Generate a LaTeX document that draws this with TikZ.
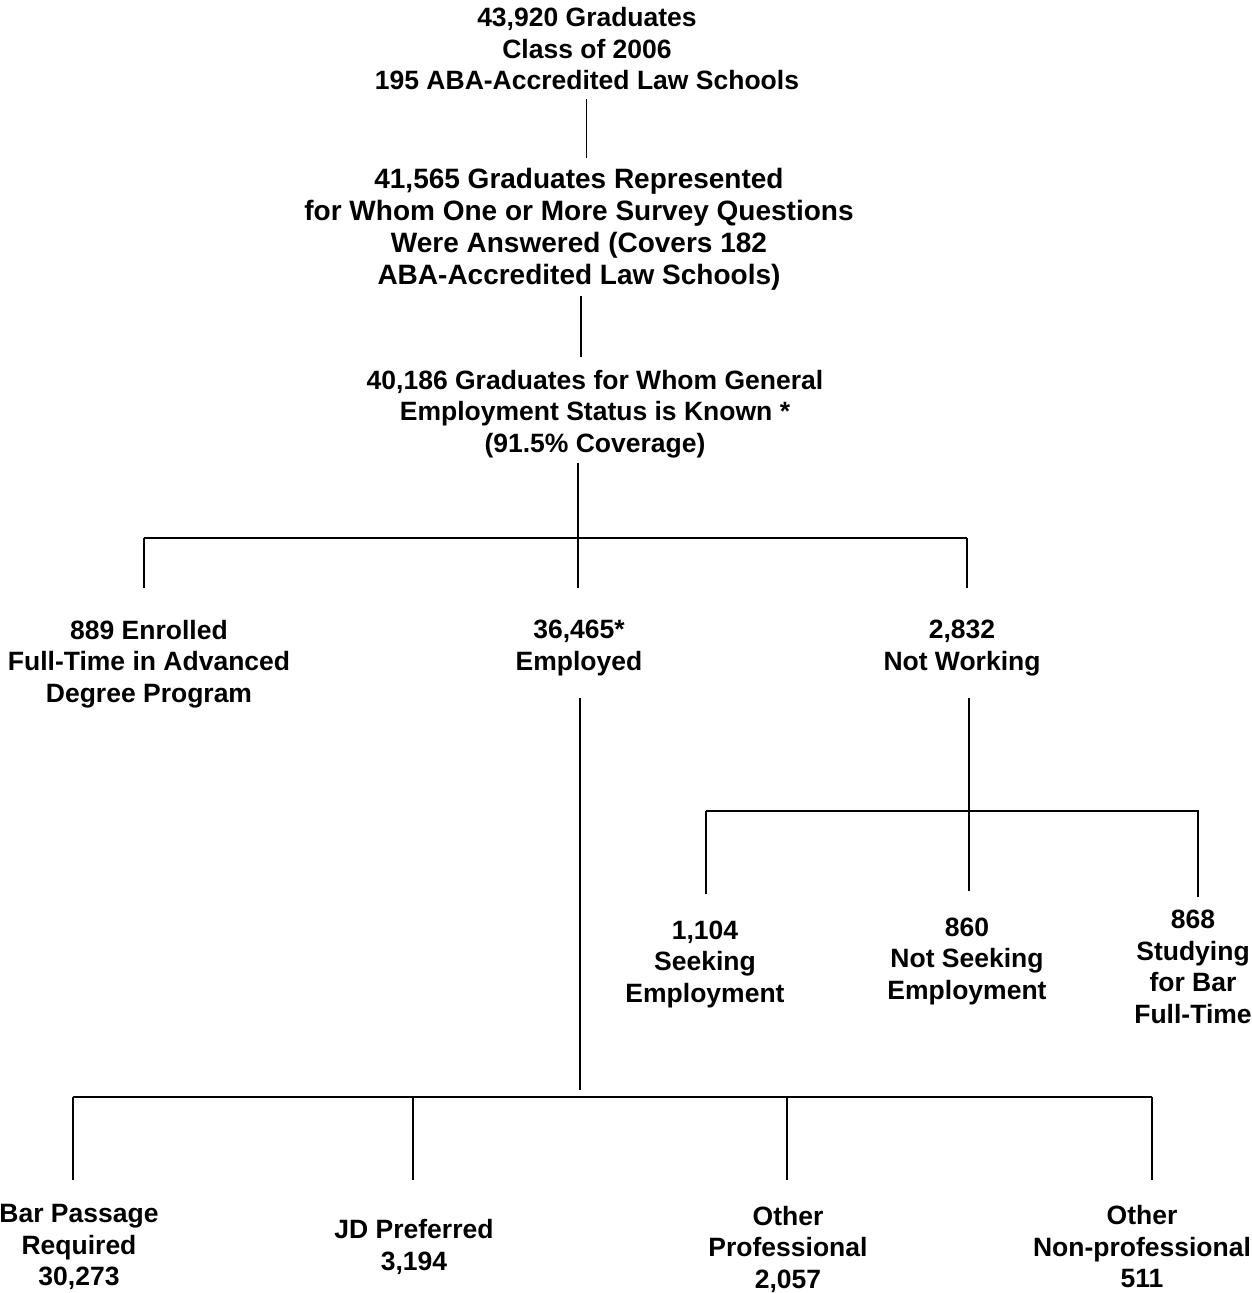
\documentclass[tikz,border=0pt]{standalone}
\usepackage{fontspec}
\setmainfont{Liberation Sans}
\usetikzlibrary{positioning}

\begin{document}
\begin{tikzpicture}[x=1pt,y=-1pt,
lbl/.style={align=center,inner sep=0pt,font=\fontsize{26.5}{31.5}\selectfont\bfseries},
biglbl/.style={lbl,font=\fontsize{28}{32}\selectfont\bfseries},
link/.style={line width=1.4pt},
rail/.style={line width=2pt}]
\useasboundingbox (0,0) rectangle (1252,1293);
% text blocks
\node[lbl] (grads) at (587,49) {43,920 Graduates\\Class of 2006\\195 ABA-Accredited Law Schools};
\node[biglbl] (repr) at (579,229) {41,565 Graduates Represented\\for Whom One or More Survey Questions\\Were Answered (Covers 182\\ABA-Accredited Law Schools)};
\node[lbl] (known) at (595,414) {40,186 Graduates for Whom General\\Employment Status is Known *\\(91.5\% Coverage)};
\node[lbl] (enrol) at (149,664) {889 Enrolled\\Full-Time in Advanced\\Degree Program};
\node[lbl] (empl) at (579,648) {36,465*\\Employed};
\node[lbl] (notw) at (962,648) {2,832\\Not Working};
\node[lbl] (seek) at (705,964) {1,104\\Seeking\\Employment};
\node[lbl] (noseek) at (967,961) {860\\Not Seeking\\Employment};
\node[lbl] (study) at (1193,967) {868\\Studying\\for Bar\\Full-Time};
\node[lbl] (barreq) at (79,1247) {Bar Passage\\Required\\30,273};
\node[lbl] (jdpref) at (414,1247) {JD Preferred\\3,194};
\node[lbl] (othprof) at (788,1249) {Other\\Professional\\2,057};
\node[lbl] (othnon) at (1142,1247) {Other\\Non-professional\\511};
% stem ends and junctions
\coordinate (a0) at (586.5,99);
\coordinate (a1) at (586.5,158);
\coordinate (b0) at (581,296);
\coordinate (b1) at (581,357);
\coordinate (c0) at (578,463);
\coordinate (j1) at (578,538);
\coordinate (j1l) at (144,538);
\coordinate (j1r) at (967,538);
\coordinate (d0) at (580,698);
\coordinate (j2) at (580,1097);
\coordinate (j2a) at (73,1097);
\coordinate (j2b) at (413,1097);
\coordinate (j2c) at (787,1097);
\coordinate (j2d) at (1152,1097);
\coordinate (e0) at (969,698);
\coordinate (j3) at (969,811);
\coordinate (j3l) at (706,811);
\coordinate (j3r) at (1198,811);
% upper stems
\draw[link] (a0) -- (a1);
\draw[link] (b0) -- (b1);
\draw[link] (c0) -- (j1);
\draw[rail] (j1l) -- (j1r);
\foreach \j in {j1l,j1,j1r}
  \draw[link] (\j) -- ++(0,50);
% employed branch
\draw[link] (d0) -- ([yshift=7pt]j2);
\draw[rail] (j2a) -- (j2d);
\foreach \j in {j2a,j2b,j2c,j2d}
  \draw[link] (\j) -- ++(0,83);
% not working branch
\draw[link] (e0) -- (j3);
\draw[rail] (j3l) -- ([xshift=1pt]j3r);
\draw[link] (j3l) -- ++(0,83);
\draw[link] (j3) -- ++(0,80);
\draw[link] (j3r) -- ++(0,86);
\end{tikzpicture}
\end{document}
